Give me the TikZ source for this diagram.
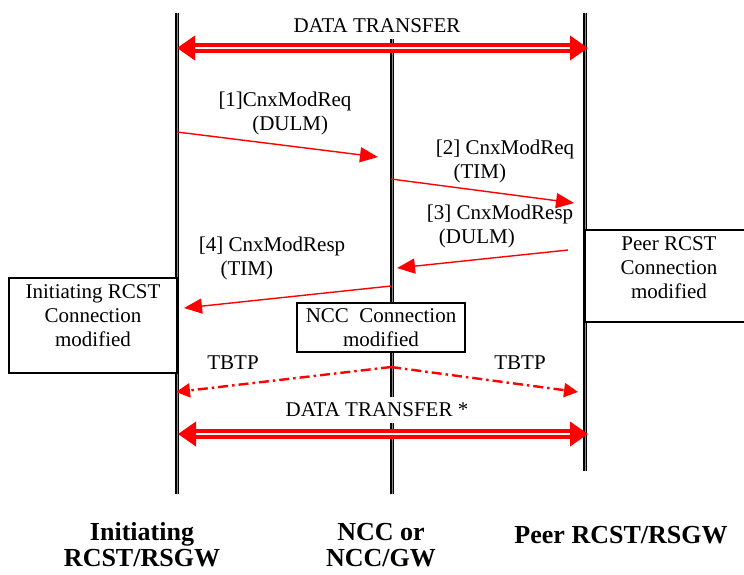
\documentclass[tikz,border=0pt]{standalone}
\usepackage{fontspec}
\setmainfont{Liberation Serif}
\usetikzlibrary{arrows.meta}
\definecolor{mcred}{HTML}{FF0000}
\definecolor{mcink}{HTML}{000000}
\newcommand{\seqfont}{\fontsize{21}{24}\selectfont}
\newcommand{\rolefont}{\fontsize{26}{26}\selectfont\bfseries}
\tikzset{
  life/.style={draw=mcink,line width=2pt,double=mcink!45,double distance=0.9pt},
  xfer/.style={draw=mcred,line width=3.8pt,double=white,double distance=2.4pt,
               {Triangle[length=18pt,width=24pt]}-{Triangle[length=18pt,width=24pt]}},
  msg/.style={draw=mcred,line width=1.4pt,-{Triangle[length=18pt,width=15pt]}},
  tbtp/.style={draw=mcred,line width=2.4pt,dash pattern=on 10pt off 4pt on 2.5pt off 4pt,
               -{Triangle[length=14pt,width=14pt]}},
  statebox/.style={draw=mcink,line width=1.1pt,fill=white,inner sep=0pt},
  mlab/.style={font=\seqfont,text=mcink,inner sep=1pt,align=center},
  band/.style={font=\seqfont,text=mcink,fill=white,inner sep=2pt,minimum height=26pt},
  role/.style={font=\rolefont,text=mcink,align=center,inner sep=0pt},
}

\begin{document}
\begin{tikzpicture}[x=1pt,y=-1pt]
  \useasboundingbox (0,0) rectangle (744,574);

  % ---- lifelines ----
  \coordinate (iniT) at (177,13);
  \coordinate (iniB) at (177,494);
  \coordinate (nccT) at (392,20);
  \coordinate (nccB) at (392,494);
  \coordinate (peerT) at (585,13);
  \coordinate (peerB) at (585,471);
  \draw[life] (iniT) -- (iniB);
  \draw[life] (nccT) -- (nccB);
  \draw[life] (peerT) -- (peerB);

  % ---- state boxes ----
  \node[statebox,minimum width=168pt,minimum height=95pt] (iniBox) at (93,325.5) {};
  \node[mlab] (iniTxt) at (93,316) {Initiating RCST\\Connection\\modified};
  \node[statebox,minimum width=168pt,minimum height=92pt] (peerBox) at (669,276) {};
  \node[mlab] (peerTxt) at (669,268) {Peer RCST\\Connection\\modified};
  \node[statebox,minimum width=168pt,minimum height=49pt,font=\seqfont,align=center]
    (nccBox) at (381,327.5) {NCC\ \ Connection\\modified};

  % ---- data transfer ----
  \node[band] (dtTop) at (377,26) {DATA TRANSFER};
  \coordinate (dt1L) at (177,48);
  \coordinate (dt1R) at (588,48);
  \draw[xfer] (dt1L) -- (dt1R);

  \node[band] (dtBot) at (377,410) {DATA TRANSFER *};
  \coordinate (dt2L) at (178,434);
  \coordinate (dt2R) at (588,434);
  \draw[xfer] (dt2L) -- (dt2R);

  % ---- modification messages ----
  \coordinate (m1a) at (177,132);
  \coordinate (m1b) at (378,157);
  \draw[msg] (m1a) -- (m1b);
  \node[mlab] (m1Lab) at (285,113) {[1]CnxModReq\\\ \ (DULM)};

  \coordinate (m2a) at (391,179);
  \coordinate (m2b) at (574,203);
  \draw[msg] (m2a) -- (m2b);
  \node[mlab] (m2Lab) at (505,161) {[2] CnxModReq\\(TIM)\hspace*{2.4em}};

  \coordinate (m3a) at (568,250);
  \coordinate (m3b) at (397,268);
  \draw[msg] (m3a) -- (m3b);
  \node[mlab] (m3Lab) at (500,226) {[3] CnxModResp\\(DULM)\hspace*{2.2em}};

  \coordinate (m4a) at (391,286);
  \coordinate (m4b) at (184,308);
  \draw[msg] (m4a) -- (m4b);
  \node[mlab] (m4Lab) at (272,258) {[4] CnxModResp\\(TIM)\hspace*{2.4em}};

  % ---- TBTP ----
  \coordinate (tbTop) at (391,367);
  \coordinate (tbL) at (176,392);
  \coordinate (tbR) at (578,392);
  \draw[tbtp] (tbTop) -- (tbL);
  \draw[tbtp] (tbTop) -- (tbR);
  \node[mlab] (tbLLab) at (233,363) {TBTP};
  \node[mlab] (tbRLab) at (520,363) {TBTP};

  % ---- roles ----
  \node[role] (iniRole) at (142,545) {Initiating\\RCST/RSGW};
  \node[role] (nccRole) at (381,545) {NCC or\\NCC/GW};
  \node[role] (peerRole) at (621,535) {Peer RCST/RSGW};
\end{tikzpicture}
\end{document}
